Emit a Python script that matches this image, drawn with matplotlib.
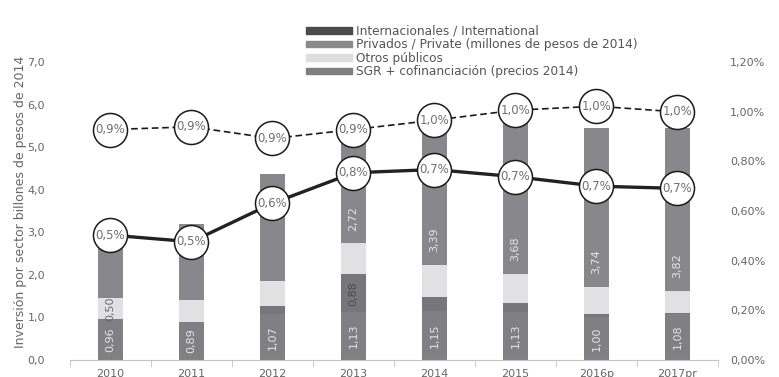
import matplotlib
matplotlib.use("Agg")
import matplotlib.pyplot as plt
from matplotlib.patches import Patch
import numpy as np

# ---- data ----
years = ['2010', '2011', '2012', '2013', '2014', '2015', '2016p', '2017pr']
sgr = [0.96, 0.89, 1.07, 1.13, 1.15, 1.13, 1.00, 1.08]
intl = [0.00, 0.00, 0.20, 0.88, 0.33, 0.20, 0.08, 0.03]
otros = [0.50, 0.52, 0.59, 0.73, 0.76, 0.70, 0.64, 0.52]
priv = [1.35, 1.78, 2.51, 2.72, 3.39, 3.68, 3.74, 3.82]
sgr_labels = ['0,96', '0,89', '1,07', '1,13', '1,15', '1,13', '1,00', '1,08']
priv_labels = ['', '', '', '2,72', '3,39', '3,68', '3,74', '3,82']
otros_labels = ['0,50', '', '', '', '', '', '', '']
intl_labels = ['', '', '', '0,88', '', '', '', '']

pct_total = [0.928, 0.939, 0.892, 0.928, 0.966, 1.006, 1.022, 0.999]
pct_total_labels = ['0,9%', '0,9%', '0,9%', '0,9%', '1,0%', '1,0%', '1,0%', '1,0%']
pct_sub = [0.503, 0.476, 0.631, 0.754, 0.767, 0.738, 0.700, 0.691]
pct_sub_labels = ['0,5%', '0,5%', '0,6%', '0,8%', '0,7%', '0,7%', '0,7%', '0,7%']

left_ticks = [0, 1, 2, 3, 4, 5, 6, 7]
right_ticks = [0.0, 0.2, 0.4, 0.6, 0.8, 1.0, 1.2]

legend_labels = ['Internacionales / International',
                 'Privados / Private (millones de pesos de 2014)',
                 'Otros públicos',
                 'SGR + cofinanciación (precios 2014)']

# ---- style ----
plt.rcParams['font.family'] = ['DejaVu Sans']
txt = '#666666'
c_sgr = '#808084'
c_intl = '#77777b'
c_otros = '#e1e1e3'
c_priv = '#88888c'

fig = plt.figure(figsize=(7.79, 3.77), dpi=100)
ax = fig.add_axes([70 / 779, 17 / 377, 648 / 779, 298 / 377])
x = np.arange(len(years))
w = 0.31

b1 = np.array(sgr)
b2 = b1 + np.array(intl)
b3 = b2 + np.array(otros)
ax.bar(x, sgr, w, color=c_sgr, zorder=2)
ax.bar(x, intl, w, bottom=b1, color=c_intl, zorder=2)
ax.bar(x, otros, w, bottom=b2, color=c_otros, zorder=2)
ax.bar(x, priv, w, bottom=b3, color=c_priv, zorder=2)

for i in range(len(years)):
    if sgr_labels[i]:
        ax.text(x[i], sgr[i] / 2, sgr_labels[i], rotation=90, ha='center', va='center',
                fontsize=8, color='#e6e6e6', zorder=3)
    if intl_labels[i]:
        ax.text(x[i], b1[i] + intl[i] / 2, intl_labels[i], rotation=90, ha='center',
                va='center', fontsize=8, color='#4a4a4a', zorder=3)
    if otros_labels[i]:
        ax.text(x[i], b2[i] + otros[i] / 2, otros_labels[i], rotation=90, ha='center',
                va='center', fontsize=8, color='#6a6a6a', zorder=3)
    if priv_labels[i]:
        ax.text(x[i], b3[i] + 0.58, priv_labels[i], rotation=90, ha='center',
                va='center', fontsize=8, color='#e6e6e6', zorder=3)

ax.set_xlim(-0.5, len(years) - 0.5)
ax.set_ylim(0, 7)
ax.set_yticks(left_ticks, [f'{v:.1f}'.replace('.', ',') for v in left_ticks])
ax.set_xticks(x, years)
ax.set_xticks(np.arange(-0.5, len(years), 1), minor=True)
for s in ['top', 'right', 'left']:
    ax.spines[s].set_visible(False)
ax.spines['bottom'].set_color('#c4c4c4')
ax.tick_params(axis='y', length=0, pad=18, labelsize=8, labelcolor=txt)
ax.tick_params(axis='x', which='major', length=0, pad=6.5, labelsize=8, labelcolor=txt)
ax.tick_params(axis='x', which='minor', length=5, color='#c4c4c4', direction='out')
ax.set_ylabel('Inversión por sector billones de pesos de 2014', fontsize=9, color=txt)
ax.yaxis.set_label_coords(-0.066, 0.53)

ax2 = ax.twinx()
ax2.set_ylim(0, 1.2)
ax2.set_yticks(right_ticks, [f'{v:.2f}%'.replace('.', ',') for v in right_ticks])
for s in ax2.spines.values():
    s.set_visible(False)
ax2.tick_params(axis='y', length=0, pad=8.6, labelsize=8, labelcolor=txt)

ax2.plot(x, pct_total, color='#1a1a1a', lw=1.2, ls=(0, (4, 2.2)), zorder=3)
ax2.plot(x, pct_sub, color='#222222', lw=2.4, zorder=3, solid_capstyle='round')
for vals, labs in [(pct_total, pct_total_labels), (pct_sub, pct_sub_labels)]:
    ax2.plot(x, vals, 'o', ms=24.5, mfc='white', mec='#1a1a1a', mew=1.1, ls='none', zorder=4)
    for xi, v, l in zip(x, vals, labs):
        ax2.text(xi, v, l, ha='center', va='center', fontsize=8.5, color='#707070', zorder=5)

handles = [Patch(color='#4a4a4a'), Patch(color='#8a8a8a'), Patch(color='#dedede'),
           Patch(color='#7f7f7f')]
fig.legend(handles, legend_labels, loc='upper left', bbox_to_anchor=(306 / 779, 1 - 25 / 377),
           frameon=False, fontsize=8.7, handlelength=3.8, handleheight=0.45,
           labelspacing=0.03, handletextpad=0.37, borderpad=0, borderaxespad=0,
           labelcolor='#555555')

fig.savefig('out.png', dpi=100)
